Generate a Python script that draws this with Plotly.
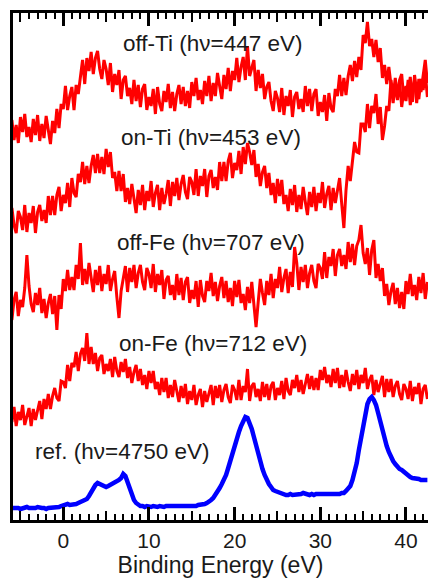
import numpy as np
import plotly.graph_objects as go

# Binding energy grid (eV), 0.25 eV steps from -6 to 42.5
energy = np.round(np.arange(-6.0, 42.51, 0.25), 2)

labels = ["off-Ti (hν=447 eV)", "on-Ti (hν=453 eV)", "off-Fe (hν=707 eV)",
          "on-Fe (hν=712 eV)", "ref. (hν=4750 eV)"]

off_ti = [
    30, 10, 25, 7, 33, 18, 36, 13, 23, 8, 31, 15, 35, 9, 26, 12, 34, 19, 6, 29,
    17, 41, 22, 46, 41, 64, 40, 54, 63, 40, 65, 56, 73, 90, 66, 92, 79, 98, 76, 92,
    99, 81, 71, 90, 81, 65, 87, 58, 76, 65, 80, 51, 70, 74, 54, 62, 46, 70, 49, 65,
    43, 61, 66, 40, 53, 44, 61, 36, 63, 46, 39, 59, 48, 66, 42, 58, 39, 56, 65, 46,
    63, 44, 59, 42, 68, 54, 72, 50, 60, 46, 69, 54, 74, 49, 67, 54, 77, 63, 51, 75,
    61, 82, 59, 79, 70, 92, 68, 83, 93, 70, 104, 74, 81, 90, 59, 80, 62, 76, 51, 63,
    68, 49, 39, 59, 52, 38, 62, 35, 54, 44, 60, 33, 53, 58, 41, 51, 38, 64, 44, 61,
    39, 56, 61, 34, 48, 38, 55, 29, 57, 42, 38, 61, 54, 75, 54, 72, 55, 74, 85, 69,
    89, 73, 93, 80, 115, 107, 128, 104, 111, 93, 110, 88, 102, 72, 85, 66, 83, 64, 47, 67,
    50, 69, 43, 60, 49, 70, 45, 60, 69, 47, 71, 58, 73, 90, 67,
]

on_ti = [
    32, 15, 7, 29, 23, 10, 35, 8, 27, 17, 34, 7, 28, 35, 19, 30, 17, 44, 25, 44,
    25, 45, 53, 29, 45, 37, 57, 33, 62, 47, 43, 66, 58, 78, 56, 74, 57, 74, 85, 67,
    86, 67, 83, 66, 91, 73, 88, 62, 68, 49, 69, 49, 66, 38, 52, 36, 56, 40, 27, 50,
    35, 55, 30, 49, 39, 59, 33, 47, 55, 30, 52, 36, 46, 60, 34, 58, 44, 62, 40, 56,
    65, 48, 41, 63, 58, 45, 71, 44, 64, 54, 71, 43, 64, 70, 52, 63, 50, 78, 59, 78,
    59, 79, 87, 62, 77, 70, 89, 66, 93, 76, 97, 88, 75, 90, 63, 76, 54, 68, 74, 52,
    67, 45, 57, 37, 61, 44, 60, 36, 45, 29, 51, 35, 55, 28, 45, 31, 53, 38, 25, 48,
    33, 53, 29, 47, 37, 58, 32, 46, 54, 30, 52, 37, 48, 62, 36, 12, 50, 74, 59, 82,
    98, 88, 87, 116, 116, 108, 136, 112, 134, 127, 146, 116, 133, 100, 114, 134, 129, 160, 143, 162,
    142, 160, 166, 140, 154, 145, 163, 138, 165, 148, 141, 161, 150, 167, 143,
]

off_fe = [
    5, 25, 33, 9, 25, 18, 37, 70, 39, 21, 13, 32, 20, 37, 12, 26, 7, 22, 31, 11,
    29, -5, 30, 16, 46, 34, 55, 35, 48, 35, 60, 46, 82, 40, 56, 41, 62, 46, 33, 55,
    40, 59, 34, 51, 41, 60, 34, 46, 54, 28, 7, 34, 45, 59, 33, 57, 43, 60, 37, 52,
    60, 43, 35, 57, 51, 37, 61, 33, 51, 40, 55, 26, 45, 49, 30, 40, 25, 51, 30, 47,
    25, 43, 48, 22, 35, 26, 44, 18, 45, 29, 23, 44, 34, 52, 29, 43, 24, 39, 48, 27,
    44, 23, 37, 19, 44, 28, 45, 22, 31, 15, 38, 22, 43, 18, -2, 23, 46, 32, 20, 44,
    30, 51, 27, 46, 37, 58, 33, 47, 56, 32, 53, 38, 78, 62, 35, 58, 43, 60, 37, 52,
    60, 44, 37, 61, 57, 46, 73, 47, 68, 59, 76, 49, 70, 76, 59, 70, 56, 83, 63, 81,
    60, 79, 85, 100, 72, 61, 77, 50, 75, 85, 47, 61, 44, 57, 29, 41, 20, 34, 42, 21,
    37, 17, 33, 16, 44, 31, 51, 29, 40, 25, 48, 32, 52, 26, 43,
]

on_fe = [
    3, 18, -1, 13, 5, 20, 0, 10, 17, -1, 16, 5, 14, 24, 6, 26, 16, 31, 16, 29,
    37, 27, 24, 44, 43, 37, 60, 44, 62, 58, 73, 54, 71, 77, 64, 92, 61, 78, 61, 72,
    54, 67, 70, 51, 61, 54, 66, 48, 68, 54, 48, 63, 53, 66, 47, 58, 42, 53, 60, 44,
    56, 40, 50, 36, 54, 42, 54, 36, 43, 30, 47, 33, 47, 27, 40, 28, 45, 32, 23, 39,
    27, 41, 21, 34, 25, 40, 20, 30, 36, 18, 34, 23, 31, 40, 20, 39, 27, 40, 23, 35,
    41, 28, 22, 40, 35, 25, 45, 25, 39, 33, 56, 24, 39, 42, 28, 36, 24, 43, 28, 41,
    25, 39, 43, 25, 37, 30, 44, 26, 47, 34, 30, 45, 37, 50, 33, 45, 31, 43, 51, 36,
    49, 35, 47, 35, 55, 45, 58, 42, 50, 38, 56, 42, 57, 37, 50, 38, 55, 43, 34, 51,
    40, 55, 36, 50, 42, 57, 36, 45, 50, 30, 45, 33, 40, 49, 28, 46, 33, 46, 28, 39,
    44, 31, 25, 41, 36, 26, 44, 24, 38, 31, 42, 21, 36, 40, 26,
]

ref = [
    12, 12, 13, 12, 11, 12, 12, 13, 12, 12, 11, 12, 13, 12, 12, 12, 11, 12, 12, 13,
    12, 13, 13, 14, 15, 16, 16, 15, 15, 16, 16, 17, 18, 18, 19, 21, 24, 28, 32, 35,
    37, 36, 35, 34, 33, 34, 35, 36, 37, 38, 40, 42, 46, 44, 38, 30, 24, 20, 17, 15,
    14, 14, 13, 14, 13, 13, 14, 13, 13, 14, 13, 13, 14, 14, 13, 14, 13, 14, 14, 14,
    14, 14, 13, 14, 14, 14, 14, 15, 15, 15, 16, 17, 18, 20, 22, 25, 28, 32, 36, 40,
    45, 52, 60, 68, 75, 82, 88, 94, 99, 103, 102, 97, 91, 83, 74, 66, 58, 51, 45, 40,
    36, 33, 30, 29, 28, 27, 26, 26, 25, 25, 26, 25, 25, 26, 25, 26, 27, 26, 26, 25,
    26, 25, 26, 26, 25, 26, 26, 25, 26, 26, 26, 25, 26, 26, 27, 27, 29, 31, 34, 40,
    48, 57, 70, 83, 95, 108, 116, 121, 123, 120, 115, 107, 98, 90, 81, 74, 68, 63, 59, 56,
    53, 51, 50, 48, 46, 45, 43, 42, 42, 41, 41, 40, 40, 40, 40,
]

series = [off_ti, on_ti, off_fe, on_fe, ref]
offsets = [370, 280, 195, 95, 0]
colors = ["#ff0000", "#ff0000", "#ff0000", "#ff0000", "#0000ff"]
widths = [3, 3, 3, 3, 4.5]
label_pos = [(17.4, 477), (17.2, 383), (17.2, 278), (17.5, 177), (6.9, 69)]

for s in series:
    assert len(s) == len(energy), (len(s), len(energy))

fig = go.Figure()
for s, off, c, w in zip(series, offsets, colors, widths):
    fig.add_trace(go.Scatter(x=energy, y=np.array(s) + off, mode="lines",
                             line=dict(color=c, width=w), showlegend=False,
                             hoverinfo="skip"))

# helper trace to anchor the medium-tick overlay axis
fig.add_trace(go.Scatter(x=[], y=[], xaxis="x2", showlegend=False))

for (ex, ey), t in zip(label_pos, labels):
    fig.add_annotation(x=ex, y=ey, xref="x", yref="y", text=t, showarrow=False,
                       font=dict(family="Liberation Sans, Arial", size=22.5, color="#1a1a1a"))

xr = [-5.87, 42.57]
fig.update_layout(
    width=428, height=580,
    margin=dict(l=13, r=0, t=13, b=60),
    plot_bgcolor="white", paper_bgcolor="white",
    font=dict(family="Liberation Sans, Arial", size=21, color="black"),
    xaxis=dict(range=xr, showgrid=False, zeroline=False, showline=True,
               linecolor="black", linewidth=3, mirror="ticks",
               ticks="inside", tickvals=[0, 10, 20, 30, 40], ticklen=13,
               tickwidth=2.5, tickcolor="black",
               tickfont=dict(size=21, color="#1a1a1a"),
               minor=dict(dtick=1, tick0=0, ticks="inside", ticklen=6,
                          tickwidth=2, tickcolor="black"),
               title=dict(text="Binding Energy (eV)", standoff=6,
                          font=dict(size=23, color="#1a1a1a"))),
    xaxis2=dict(range=xr, overlaying="x", anchor="y", side="bottom",
                showgrid=False, zeroline=False, showline=False,
                tickvals=[-5, 5, 15, 25, 35], ticks="inside", ticklen=9,
                tickwidth=2, tickcolor="black", mirror="ticks",
                showticklabels=False),
    yaxis=dict(range=[0, 507], showgrid=False, zeroline=False, showline=True,
               linecolor="black", linewidth=3, ticks="", showticklabels=False),
)

fig.write_html("out.html", config={"displayModeBar": False},
               post_script="document.body.style.margin='0';document.body.style.overflow='hidden';")
